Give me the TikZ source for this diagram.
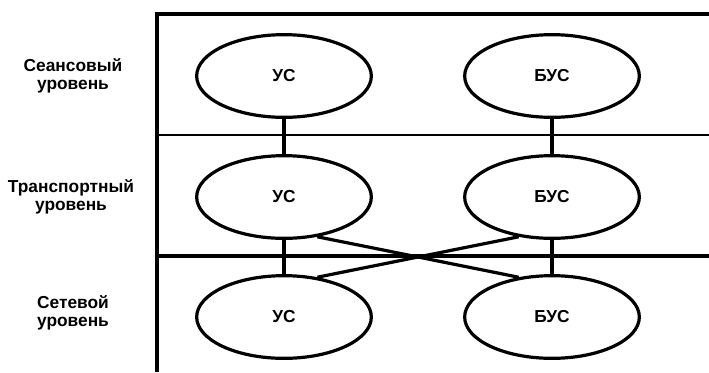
\documentclass[tikz,border=0pt]{standalone}
\usepackage{fontspec}
\setmainfont{Liberation Sans}
\usepackage{tikz}
\usetikzlibrary{shapes.geometric}

\begin{document}
\begin{tikzpicture}[x=0.75pt,y=-0.75pt]
			\tikzstyle{unit}=[draw, ellipse, line width=2.4pt, minimum width=131pt, minimum height=62pt, inner sep=0pt, font=\bfseries\fontsize{13}{13.5}\selectfont]
			\tikzstyle{level}=[align=center, font=\bfseries\fontsize{13}{13.5}\selectfont]
			\tikzstyle{link}=[draw, line width=2.4pt]
			\newcommand\Xframe{157}
			\newcommand\Xend{709}
			\newcommand\Xtext{73}
			\newcommand\XUS{284}
			\newcommand\XBUS{552}

			\newcommand\Ytop{14}
			\newcommand\Yses{76}
			\newcommand\Ytr{197}
			\newcommand\Ynet{317}

			\useasboundingbox (0,0) rectangle (709,372);

			% Frame
			\draw [line width=2.8pt] (\Xframe,372) -- (\Xframe,\Ytop) -- (\Xend,\Ytop);
			\draw [line width=1.8pt] (\Xframe,135) -- (\Xend,135);
			\draw [line width=2.8pt] (\Xframe,256) -- (\Xend,256);

			 % Session
			\node [level] at (\Xtext,\Yses) (Lses) {Сеансовый\\уровень};
			\node [unit, fill=white] at (\XUS,\Yses) (USses) {УС};
			\node [unit, fill=white] at (\XBUS,\Yses) (BUSses) {БУС};

			 % Transport
			\node [level] at (\Xtext-2,\Ytr) (Ltr) {Транспортный\\уровень};
			\node [unit, fill=white] at (\XUS,\Ytr) (UStr) {УС};
			\node [unit, fill=white] at (\XBUS,\Ytr) (BUStr) {БУС};

			 % Network
			\node [level] at (\Xtext,\Ynet+-4) (Lnet) {Сетевой\\уровень};
			\node [unit, fill=white] at (\XUS,\Ynet) (USnet) {УС};
			\node [unit, fill=white] at (\XBUS,\Ynet) (BUSnet) {БУС};

			 % Links
			\path [link] (USses) -- (UStr);
			\path [link] (BUSses) -- (BUStr);
			\path [link] (UStr) -- (USnet);
			\path [link] (BUStr) -- (BUSnet);

			\path [link] (UStr.-50) -- (BUSnet.130);
			\path [link] (BUStr.-130) -- (USnet.50);

		\end{tikzpicture}
\end{document}
